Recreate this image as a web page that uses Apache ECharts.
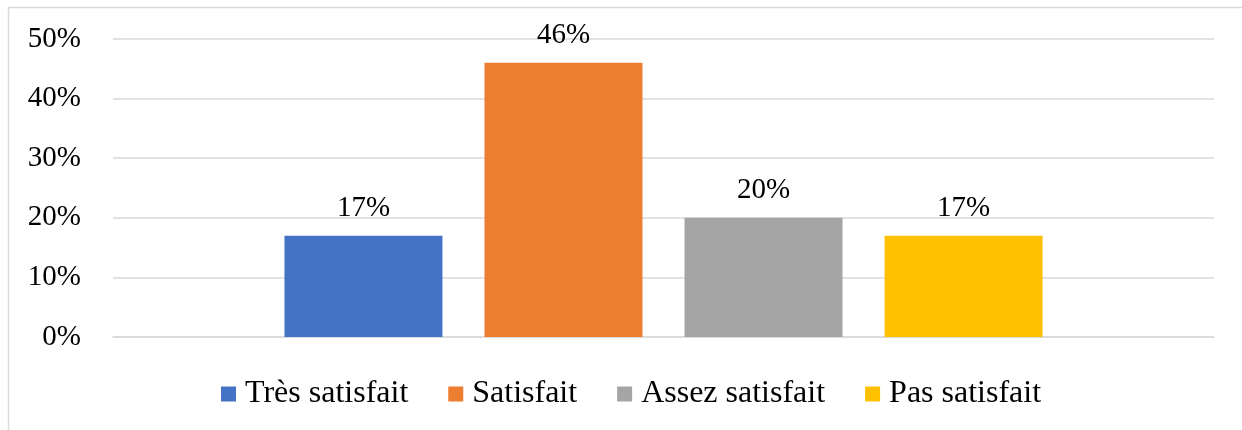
<!DOCTYPE html>
<html>
<head>
<meta charset="utf-8">
<script src="https://cdn.jsdelivr.net/npm/echarts@6/dist/echarts.min.js"></script>
<style>
  html, body { margin: 0; padding: 0; background: #fff; }
  #chart { width: 1242px; height: 430px; }
</style>
</head>
<body>
<div id="chart"></div>
<script>
// Satisfaction levels and their share of responses (%)
const seriesNames = ['Très satisfait', 'Satisfait', 'Assez satisfait', 'Pas satisfait'];
const seriesValues = [17, 46, 20, 17];
const seriesColors = ['#4472C4', '#ED7D31', '#A5A5A5', '#FFC000'];
const categories = [''];
const yTicks = { min: 0, max: 50, interval: 10 };

const FONT = '"Liberation Serif", "Times New Roman", serif';
const FONT_SIZE = 29;
const LEGEND_FONT_SIZE = 32;

const chart = echarts.init(document.getElementById('chart'), null, { renderer: 'canvas' });

const series = seriesNames.map((name, i) => ({
  name: name,
  type: 'bar',
  data: [seriesValues[i]],
  barWidth: 158,
  barGap: '26.6%',
  itemStyle: { color: seriesColors[i] },
  label: {
    show: true,
    position: 'top',
    distance: 13,
    formatter: p => p.value + '%',
    color: '#000',
    fontFamily: FONT,
    fontSize: FONT_SIZE
  }
}));

chart.setOption({
  animation: false,
  backgroundColor: '#fff',
  graphic: [{
    type: 'rect',
    shape: { x: 8.5, y: 7.5, width: 1400, height: 600 },
    style: { fill: 'none', stroke: '#d9d9d9', lineWidth: 1.5 },
    silent: true,
    z: -1
  }],
  grid: { left: 113, right: 28, top: 39, bottom: 93, containLabel: false },
  legend: {
    data: seriesNames,
    bottom: 15,
    left: 216,
    padding: [5, 5, 5, 5],
    itemWidth: 15,
    itemHeight: 15,
    itemGap: 40,
    icon: 'rect',
    textStyle: { color: '#000', fontFamily: FONT, fontSize: LEGEND_FONT_SIZE, padding: [0, 0, 0, 4] }
  },
  xAxis: {
    type: 'category',
    data: categories,
    axisLine: { show: true, lineStyle: { color: '#d9d9d9', width: 1.5 } },
    axisTick: { show: false },
    axisLabel: { show: false },
    splitLine: { show: false }
  },
  yAxis: {
    type: 'value',
    min: yTicks.min,
    max: yTicks.max,
    interval: yTicks.interval,
    axisLine: { show: false },
    axisTick: { show: false },
    axisLabel: {
      formatter: v => v + '%',
      color: '#000',
      fontFamily: FONT,
      fontSize: FONT_SIZE,
      margin: 32
    },
    splitLine: { lineStyle: { color: '#d9d9d9', width: 1.5 } }
  },
  series: series
});
</script>
</body>
</html>
